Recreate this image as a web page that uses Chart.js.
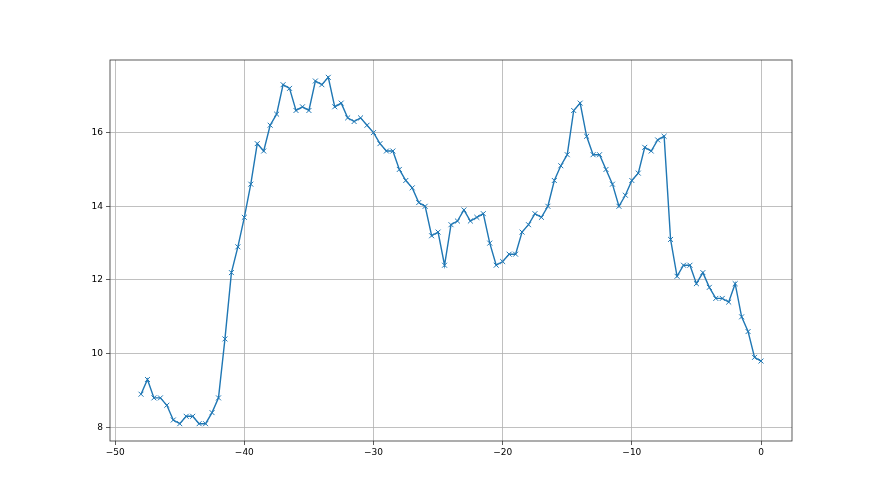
<!DOCTYPE html>
<html>
<head>
    <title>Line with x markers</title>
    <script src="https://cdn.jsdelivr.net/npm/chart.js@4.4.1/dist/chart.umd.min.js"></script>
</head>

<style>
    body {
        margin: 0;
        background: #ffffff;
    }

    .chart-container {
        position: relative;
        width: 880px;
        height: 495px;
    }
</style>

<body>
    <div class="chart-container"><canvas id="myChart"></canvas></div>

    <script>

    // x positions: -48 .. 0, every 0.5
    const xValues = [
        -48, -47.5, -47, -46.5, -46, -45.5, -45, -44.5, -44, -43.5,
        -43, -42.5, -42, -41.5, -41, -40.5, -40, -39.5, -39, -38.5,
        -38, -37.5, -37, -36.5, -36, -35.5, -35, -34.5, -34, -33.5,
        -33, -32.5, -32, -31.5, -31, -30.5, -30, -29.5, -29, -28.5,
        -28, -27.5, -27, -26.5, -26, -25.5, -25, -24.5, -24, -23.5,
        -23, -22.5, -22, -21.5, -21, -20.5, -20, -19.5, -19, -18.5,
        -18, -17.5, -17, -16.5, -16, -15.5, -15, -14.5, -14, -13.5,
        -13, -12.5, -12, -11.5, -11, -10.5, -10, -9.5, -9, -8.5,
        -8, -7.5, -7, -6.5, -6, -5.5, -5, -4.5, -4, -3.5,
        -3, -2.5, -2, -1.5, -1, -0.5, 0
    ];

    const yValues = [
        8.9, 9.3, 8.8, 8.8, 8.6, 8.2, 8.1, 8.3, 8.3, 8.1,
        8.1, 8.4, 8.8, 10.4, 12.2, 12.9, 13.7, 14.6, 15.7, 15.5,
        16.2, 16.5, 17.3, 17.2, 16.6, 16.7, 16.6, 17.4, 17.3, 17.5,
        16.7, 16.8, 16.4, 16.3, 16.4, 16.2, 16.0, 15.7, 15.5, 15.5,
        15.0, 14.7, 14.5, 14.1, 14.0, 13.2, 13.3, 12.4, 13.5, 13.6,
        13.9, 13.6, 13.7, 13.8, 13.0, 12.4, 12.5, 12.7, 12.7, 13.3,
        13.5, 13.8, 13.7, 14.0, 14.7, 15.1, 15.4, 16.6, 16.8, 15.9,
        15.4, 15.4, 15.0, 14.6, 14.0, 14.3, 14.7, 14.9, 15.6, 15.5,
        15.8, 15.9, 13.1, 12.1, 12.4, 12.4, 11.9, 12.2, 11.8, 11.5,
        11.5, 11.4, 11.9, 11.0, 10.6, 9.9, 9.8
    ];

    const xTicks = [-50, -40, -30, -20, -10, 0];
    const yTicks = [8, 10, 12, 14, 16];

    const points = xValues.map((x, i) => ({ x: x, y: yValues[i] }));

    // cadre complet autour de la zone de tracé (comme matplotlib)
    const frame = {
        id: 'frame',
        afterDraw(chart) {
            const a = chart.chartArea;
            const ctx = chart.ctx;
            ctx.save();
            ctx.strokeStyle = '#333333';
            ctx.lineWidth = 0.8;
            ctx.strokeRect(a.left, a.top, a.right - a.left, a.bottom - a.top);
            ctx.restore();
        }
    };

    const tickFont = { family: 'DejaVu Sans', size: 9 };
    const minus = v => String(v).replace('-', '\u2212');

    const ctx = document.getElementById('myChart').getContext('2d');
    new Chart(ctx, {
        type: 'line',
        data: {
            datasets: [{
                data: points,
                borderColor: '#1f77b4',
                backgroundColor: '#1f77b4',
                borderWidth: 1.4,
                tension: 0,
                fill: false,
                pointStyle: 'crossRot',
                pointRadius: 3.5,
                pointBorderWidth: 1,
                pointBorderColor: '#1f77b4',
                pointHoverRadius: 3.5
            }]
        },
        options: {
            responsive: true,
            maintainAspectRatio: false,
            animation: false,
            layout: { padding: { top: 60, right: 88, left: 0, bottom: 0 } },
            plugins: {
                legend: { display: false },
                tooltip: { enabled: false }
            },
            scales: {
                x: {
                    type: 'linear',
                    min: -50.4,
                    max: 2.4,
                    afterBuildTicks: scale => { scale.ticks = xTicks.map(v => ({ value: v })); },
                    afterFit: scale => { scale.height = 54; },
                    grid: { color: '#b0b0b0', lineWidth: 0.8, tickColor: '#333333', tickLength: 4, tickWidth: 0.8 },
                    border: { display: false },
                    ticks: { color: '#000000', font: tickFont, padding: 2, maxRotation: 0, callback: minus }
                },
                y: {
                    type: 'linear',
                    min: 7.63,
                    max: 17.97,
                    afterBuildTicks: scale => { scale.ticks = yTicks.map(v => ({ value: v })); },
                    afterFit: scale => { scale.width = 110; },
                    grid: { color: '#b0b0b0', lineWidth: 0.8, tickColor: '#333333', tickLength: 4, tickWidth: 0.8 },
                    border: { display: false },
                    ticks: { color: '#000000', font: tickFont, padding: 3, callback: minus }
                }
            }
        },
        plugins: [frame]
    });

    </script>
</body>
</html>
